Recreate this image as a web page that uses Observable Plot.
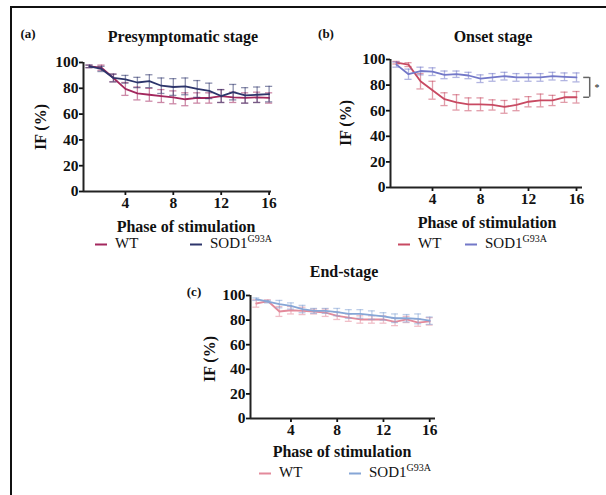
<!DOCTYPE html>
<html><head><meta charset="utf-8">
<script src="https://cdn.jsdelivr.net/npm/d3@7"></script>
<script src="https://cdn.jsdelivr.net/npm/@observablehq/plot@0.6"></script>
<style>
body{margin:0;background:#fff;}
#root{position:relative;width:606px;height:495px;overflow:hidden;font-family:"Liberation Serif",Tinos,"Times New Roman",Times,"DejaVu Serif",serif;color:#111;background:#fff;}
.t{position:absolute;white-space:nowrap;transform:translate(-50%,-50%);line-height:1;}
.b{font-weight:bold;}
.v{transform:translate(-50%,-50%) rotate(-90deg);}
.lg{position:absolute;white-space:nowrap;transform:translateY(-50%);font-size:15px;line-height:1;}
.sw{display:inline-block;width:12px;height:0;border-top:2px solid;vertical-align:middle;margin-right:8px;}
sup{font-size:10px;vertical-align:6px;line-height:0;}
.pl{position:absolute;}
.frameL{position:absolute;left:10px;top:6px;width:2px;height:489px;background:#111;}
.frameT{position:absolute;left:10px;top:6px;width:596px;height:2px;background:#111;}
</style></head>
<body><div id="root">
<div class="frameL"></div><div class="frameT"></div>
</div>
<script>
const phases = [1,2,3,4,5,6,7,8,9,10,11,12,13,14,15,16];
const yTicks = [0,20,40,60,80,100];
const xTicks = [4,8,12,16];
const seriesNames = ["WT","SOD1"];

// (a) Presymptomatic stage
const wtA     = [97,96,88,79.5,76,75,74,73,71.5,72.5,72.5,74,73,72.5,73,72.5];
const wtAErr  = [1,2,3,5,5,5,5,5,5,4,4,5,4,4,4,4];
const sodA    = [97,95,88,87,84.5,85.5,82,81,81.5,79.5,78,74,77,74.5,75,75.5];
const sodAErr = [1,2,3,3,4,5,6,6.5,6.5,6.5,6,5,6,6,6,6];

// (b) Onset stage
const wtB     = [97.5,96,83,76,69,66.5,65,65,64.5,63,64.5,67,68,68,70.5,70.5];
const wtBErr  = [1,1.5,6,7,5,6,5,5,4,5,4.5,4,5,4,4,4.5];
const sodB    = [96,88.5,91,90.5,88,88.5,87.5,85,86,87,86,86,86,87,86.5,86];
const sodBErr = [2,4,3,3,3,2.5,2.5,3,3,3,3,3,3,3,3,3.5];

// (c) End-stage
const wtC     = [93.5,95.5,87,88,87.5,87,86,83.5,82,80.5,80.5,80.5,78.5,80.5,78,79];
const wtCErr  = [3,1,4,3,3,2,3,3,3,3,3,3,3,2.5,3,3];
const sodC    = [97,95,93,91.5,89,87.5,87.5,86.5,85,85,84,83,81.5,81.5,81,79.5];
const sodCErr = [1,1,3,2.5,3,2,2,3,3.5,3.5,3.5,3,3.5,3,4,3];

const bracketX = [16.6, 17.1];
const starX = 17.7;

const FONT = '"Liberation Serif",Tinos,"Times New Roman",Times,"DejaVu Serif",serif';
const root = document.getElementById("root");
function addText(html, x, y, cls, size){
  const d = document.createElement("div");
  d.className = "t " + (cls||"");
  d.style.left = x + "px"; d.style.top = y + "px";
  d.style.fontSize = size + "px";
  d.innerHTML = html;
  root.appendChild(d);
}
function addLegend(x, y, color, html){
  const d = document.createElement("div");
  d.className = "lg";
  d.style.left = x + "px"; d.style.top = y + "px";
  d.innerHTML = `<span class="sw" style="border-color:${color}"></span>${html}`;
  root.appendChild(d);
}
function rows(vals, errs){
  return phases.map((p,i)=>({p, y: vals[i], lo: vals[i]-errs[i], hi: vals[i]+errs[i]}));
}
function seriesMarks(vals, errs, color){
  const r = rows(vals, errs);
  return [
    Plot.ruleX(r, {x:"p", y1:"lo", y2:"hi", stroke:color, strokeOpacity:0.55, strokeWidth:1.3}),
    Plot.ruleY(r, {y:"hi", x1:d=>d.p-0.3, x2:d=>d.p+0.3, stroke:color, strokeOpacity:0.55, strokeWidth:1.3}),
    Plot.ruleY(r, {y:"lo", x1:d=>d.p-0.3, x2:d=>d.p+0.3, stroke:color, strokeOpacity:0.55, strokeWidth:1.3}),
    Plot.line(r, {x:"p", y:"y", stroke:color, strokeWidth:1.8})
  ];
}
function panel(o){
  const chart = Plot.plot({
    width:o.width, height:o.height,
    marginLeft:o.mL, marginRight:o.mR, marginTop:12, marginBottom:24,
    x:{domain:[0.5,o.xMax]}, y:{domain:[0,100]},
    style:{fontFamily:FONT, fontSize:"15.5px", fontWeight:"bold", color:"#111", overflow:"visible", background:"transparent"},
    marks:[
      Plot.axisY({ticks:yTicks, tickSize:4, tickPadding:1, label:null, strokeWidth:1.8, fontSize:15.5}),
      Plot.axisX({ticks:xTicks, tickSize:4, tickPadding:1, label:null, strokeWidth:1.8, fontSize:15.5}),
      ...seriesMarks(o.wt, o.wtErr, o.wtColor),
      ...seriesMarks(o.sod, o.sodErr, o.sodColor),
      ...(o.extra||[]),
      Plot.ruleY([0], {stroke:"#222", strokeWidth:2}),
      Plot.ruleX([0.5], {stroke:"#222", strokeWidth:2})
    ]
  });
  chart.classList.add("pl");
  chart.style.left = o.left + "px"; chart.style.top = o.top + "px";
  root.appendChild(chart);
}

const colA = ["#a3285e","#2d356b"];
const colB = ["#c84a62","#7378c8"];
const colC = ["#e38a9b","#86a6d6"];

panel({left:20, top:50, width:260, height:165, mL:63, mR:9, xMax:16.2,
  wt:wtA, wtErr:wtAErr, sod:sodA, sodErr:sodAErr, wtColor:colA[0], sodColor:colA[1]});

const lastW = wtB[wtB.length-1], lastS = sodB[sodB.length-1];
panel({left:330, top:47, width:276, height:164, mL:60, mR:24, xMax:16.5,
  wt:wtB, wtErr:wtBErr, sod:sodB, sodErr:sodBErr, wtColor:colB[0], sodColor:colB[1],
  extra:[
    Plot.ruleY([lastS, lastW], {x1:bracketX[0], x2:bracketX[1], stroke:"#666", strokeWidth:1.5}),
    Plot.ruleX([bracketX[1]], {y1:lastW, y2:lastS, stroke:"#666", strokeWidth:1.5}),
    Plot.text(["*"], {x:starX, y:(lastW+lastS)/2, fontSize:10, fontWeight:"normal", fill:"#222"})
  ]});

panel({left:190, top:283, width:260, height:159, mL:60, mR:15, xMax:16.5,
  wt:wtC, wtErr:wtCErr, sod:sodC, sodErr:sodCErr, wtColor:colC[0], sodColor:colC[1]});

// texts (a)
addText("(a)", 28, 33, "b", 13);
addText("Presymptomatic stage", 183, 37, "b", 16);
addText("IF (%)", 41, 127, "b v", 16);
addText("Phase of stimulation", 186, 227, "b", 16);
addLegend(95, 243, colA[0], seriesNames[0]);
addLegend(190, 243, colA[1], `SOD1<sup>G93A</sup>`);
// (b)
addText("(b)", 326, 33, "b", 13);
addText("Onset stage", 493, 37, "b", 16);
addText("IF (%)", 346, 123, "b v", 16);
addText("Phase of stimulation", 487, 223, "b", 16);
addLegend(398, 243, colB[0], seriesNames[0]);
addLegend(465, 243, colB[1], `SOD1<sup>G93A</sup>`);
// (c)
addText("(c)", 194, 291, "b", 13);
addText("End-stage", 344, 272, "b", 16);
addText("IF (%)", 210, 359, "b v", 16);
addText("Phase of stimulation", 342, 452, "b", 16);
addLegend(259, 472, colC[0], seriesNames[0]);
addLegend(349, 472, colC[1], `SOD1<sup>G93A</sup>`);
</script>
</body></html>
